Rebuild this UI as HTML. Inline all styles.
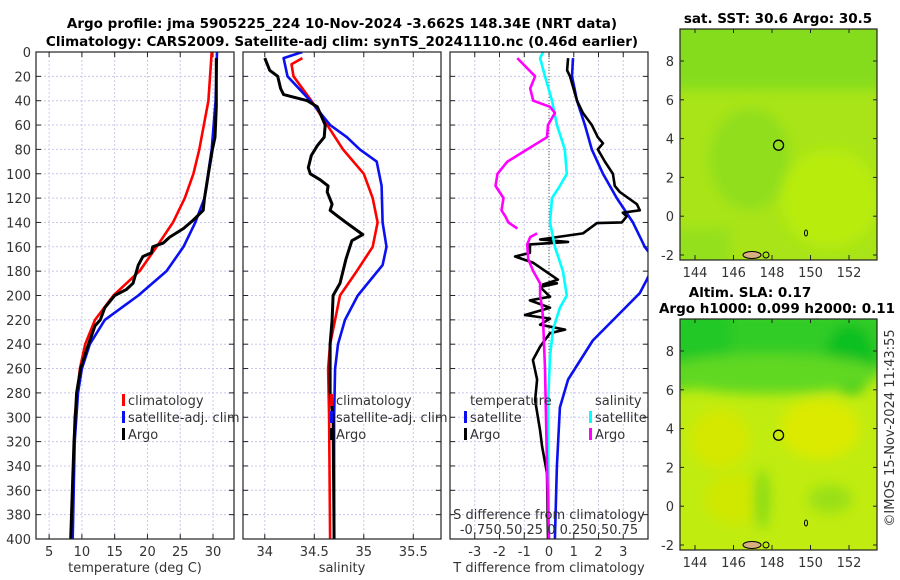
<!DOCTYPE html>
<html><head><meta charset="utf-8"><style>
html,body{margin:0;padding:0;background:#fff;}
svg{display:block;font-family:"DejaVu Sans","Liberation Sans",sans-serif;}
.t{font-size:13px;fill:#333;}
.ttl{font-size:13.5px;font-weight:bold;fill:#000;}
</style></head><body>
<svg id="chart" width="900" height="580" viewBox="0 0 900 580">
<defs>
<filter id="blur4" x="-20%" y="-20%" width="140%" height="140%"><feGaussianBlur stdDeviation="6"/></filter>
<clipPath id="cm1"><rect x="680" y="29" width="197" height="231"/></clipPath>
<clipPath id="cm2"><rect x="680" y="319" width="197" height="231"/></clipPath>
<clipPath id="cp1"><rect x="36" y="52" width="198" height="487"/></clipPath>
<clipPath id="cp2"><rect x="243" y="52" width="198" height="487"/></clipPath>
<clipPath id="cp3"><rect x="450" y="52" width="198" height="487"/></clipPath>
</defs>
<text class="ttl" x="342" y="28" text-anchor="middle">Argo profile: jma 5905225_224 10-Nov-2024 -3.662S 148.34E (NRT data)</text>
<text class="ttl" x="342" y="46" text-anchor="middle">Climatology: CARS2009. Satellite-adj clim: synTS_20241110.nc (0.46d earlier)</text>
<g id="maps"></g>
<g id="plots"></g>
<text class="t" transform="translate(894,428) rotate(-90)" text-anchor="middle" font-size="13">©IMOS 15-Nov-2024 11:43:55</text>
</svg>
<script>
// ---- data (depth in m) ----
const tempClimD = [0,40,80,100,120,140,160,180,200,220,240,260,300,400];
const tempClimV = [29.8,29.3,27.9,27.0,25.7,23.9,21.4,18.8,14.8,12.0,10.5,9.7,8.9,8.5];
const tempSatD = [0,40,80,120,140,160,180,200,220,240,260,280,320,400];
const tempSatV = [30.6,30.4,29.8,28.7,27.3,25.5,22.9,18.6,13.5,11.2,10.0,9.4,8.9,8.6];
const tempArgoD = [5,45,70,80,100,110,120,130,138,145,152,157,160,165,168,175,190,195,200,210,220,225,240,260,280,320,400];
const tempArgoV = [30.5,30.5,30.3,29.9,29.3,29.0,28.7,28.5,27.0,25.5,23.4,22.4,20.8,20.6,19.3,18.6,17.8,16.8,15.0,13.5,12.8,12.0,11.0,9.8,9.2,8.8,8.3];
const salClimD = [5,10,20,40,60,80,100,120,140,160,180,200,220,240,260,300,400];
const salClimV = [34.38,34.27,34.29,34.47,34.63,34.79,35.0,35.09,35.14,35.09,34.93,34.76,34.71,34.66,34.64,34.65,34.66];
const salSatD = [0,5,20,40,60,70,80,90,110,140,160,175,200,220,240,260,300,400];
const salSatV = [34.38,34.19,34.23,34.46,34.66,34.83,34.96,35.13,35.18,35.19,35.23,35.19,34.94,34.81,34.74,34.71,34.70,34.70];
const salArgoD = [5,15,20,30,35,40,45,60,70,77,85,95,100,105,110,115,125,130,135,140,150,155,160,170,180,190,200,220,240,260,280,300,400];
const salArgoV = [34.0,34.05,34.13,34.16,34.19,34.43,34.53,34.61,34.6,34.53,34.47,34.44,34.46,34.56,34.64,34.63,34.68,34.66,34.74,34.82,34.99,34.88,34.86,34.82,34.79,34.76,34.69,34.68,34.66,34.66,34.66,34.69,34.70];
const dTSatD = [5,20,40,60,80,100,120,140,160,172,187,198,237,269,292,340,400];
const dTSatV = [0.97,0.93,1.13,1.45,1.73,2.18,2.74,3.39,3.87,4.3,3.95,3.67,1.77,0.77,0.44,0.32,0.24];
const dTArgoD = [5,15,20,40,50,60,70,75,80,90,100,110,115,125,130,132,135,140,140.5,149,154,156,158,165,168,173,187,191,190,193,201,204,210,216,219,224,228,231,242,253,269,286,311,324,346,400];
const dTArgoV = [0.77,0.73,0.85,1.13,1.37,1.73,1.97,2.18,1.97,2.26,2.58,2.66,2.86,3.55,3.67,2.98,3.14,2.94,1.94,1.37,-0.36,0.77,-0.77,-0.77,-1.37,-0.65,0.36,-0.24,0.32,-0.36,0.04,-0.77,0.04,-0.97,0.04,-0.36,0.65,0.04,-0.36,-0.65,-0.48,-0.56,-0.36,-0.28,-0.08,-0.04];
const dSSatD = [0,5,20,40,60,80,100,110,120,140,160,180,200,210,228,250,290,400];
const dSSatV = [-0.06,-0.09,-0.04,0.03,0.08,0.16,0.18,0.11,0.03,0.01,0.06,0.14,0.18,0.11,0.04,0.01,-0.01,0.0];
const dSArgoD = [5,20,30,40,45,50,60,70,75,80,90,100,110,120,130,135,140,145,null,149,152,158,170,180,190,200,210,220,240,260,300,340,400];
const dSArgoV = [-0.32,-0.14,-0.19,-0.16,0.01,0.06,-0.01,-0.02,-0.12,-0.22,-0.42,-0.52,-0.54,-0.46,-0.48,-0.44,-0.41,-0.32,null,-0.12,-0.19,-0.22,-0.21,-0.16,-0.09,-0.09,-0.07,-0.06,-0.05,-0.04,-0.03,-0.02,0.0];
const depthTicks = [0,20,40,60,80,100,120,140,160,180,200,220,240,260,280,300,320,340,360,380,400];
const tempTicks = [5,10,15,20,25,30];
const salTicks = [34,34.5,35,35.5];
const dTTicks = [-3,-2,-1,0,1,2,3];
const lonTicks = [144,146,148,150,152];
const latTicks = [-2,0,2,4,6,8];

const NS='http://www.w3.org/2000/svg';
const plots=document.getElementById('plots');
const maps=document.getElementById('maps');
function mk(tag,at,parent){const e=document.createElementNS(NS,tag);for(const k in at)e.setAttribute(k,at[k]);(parent||plots).appendChild(e);return e;}
const Y0=52,Y1=539;
const yD=d=>Y0+d/400*(Y1-Y0);
function xLin(x0,x1,v0,v1){return v=>x0+(v-v0)/(v1-v0)*(x1-x0);}
const xT=xLin(36,234,3,33.2);
const xS=xLin(243,441,33.78,35.78);
const xDT=xLin(450,648,-4,4);
const xDS=xLin(450,648,-1,1);

function panel(x0,name,ticks,xf,fmt,xlabel){
  const g=mk('g',{});
  
  
  for(const d of depthTicks){
    const l=mk('line',{x1:x0,x2:x0+198,y1:yD(d),y2:yD(d),stroke:'#c8c8ec','stroke-dasharray':'2,2','stroke-width':1},g);
    
    
    mk('line',{x1:x0,x2:x0+5,y1:yD(d),y2:yD(d),stroke:'#222'},g);
    mk('line',{x1:x0+193,x2:x0+198,y1:yD(d),y2:yD(d),stroke:'#222'},g);
  }
  for(const t of ticks){
    const x=xf(t);
    const l=mk('line',{x1:x,x2:x,y1:Y0,y2:Y1,stroke:'#c8c8ec','stroke-dasharray':'2,2'},g);
    
    
    mk('line',{x1:x,x2:x,y1:Y1-5,y2:Y1,stroke:'#222'},g);
    mk('line',{x1:x,x2:x,y1:Y0,y2:Y0+5,stroke:'#222'},g);
    const tx=mk('text',{x:x,y:Y1+17,'text-anchor':'middle',class:'t'},g);
    tx.textContent=fmt(t);
    
    
  }
  const lb=mk('text',{x:x0+99,y:Y1+33,'text-anchor':'middle',class:'t'},g);
  lb.textContent=xlabel;
  
  
  return g;
}
const p1=panel(36,'temperature-panel',tempTicks,xT,v=>String(v),'temperature (deg C)');
const p2=panel(243,'salinity-panel',salTicks,xS,v=>String(v),'salinity');
const p3=panel(450,'difference-panel',dTTicks,xDT,v=>String(v),'T difference from climatology');
const zl=mk('line',{x1:xDT(0),x2:xDT(0),y1:Y0,y2:Y1,stroke:'#555','stroke-dasharray':'1,2'},p3);


for(const d of depthTicks){
  const t=mk('text',{x:31,y:yD(d)+5,'text-anchor':'end',class:'t'});
  t.textContent=d;
  
  
}
function line(D,V,xf,color,clip,name,w){
  let d='',pen=false;
  for(let i=0;i<D.length;i++){
    if(D[i]===null||V[i]===null){pen=false;continue;}
    d+=(pen?'L':'M')+xf(V[i]).toFixed(1)+','+yD(D[i]).toFixed(1);pen=true;
  }
  const p=mk('path',{d:d,fill:'none',stroke:color,'stroke-width':w||2.6,'stroke-linejoin':'round','clip-path':'url(#'+clip+')'});
  
  
}
line(tempClimD,tempClimV,xT,'#ff0000','cp1','temp-climatology-line');
line(tempSatD,tempSatV,xT,'#0a10f0','cp1','temp-satellite-line');
line(tempArgoD,tempArgoV,xT,'#000','cp1','temp-argo-line',3);
line(salClimD,salClimV,xS,'#ff0000','cp2','sal-climatology-line');
line(salSatD,salSatV,xS,'#0a10f0','cp2','sal-satellite-line');
line(salArgoD,salArgoV,xS,'#000','cp2','sal-argo-line',3);
line(dTSatD,dTSatV,xDT,'#0a10f0','cp3','dT-satellite-line');
line(dTArgoD,dTArgoV,xDT,'#000','cp3','dT-argo-line');
line(dSSatD,dSSatV,xDS,'#00ffff','cp3','dS-satellite-line');
line(dSArgoD,dSArgoV,xDS,'#ff00ff','cp3','dS-argo-line');
for(const x0 of [36,243,450]){
  const r=mk('rect',{x:x0,y:Y0,width:198,height:Y1-Y0,fill:'none',stroke:'#222','stroke-width':1.2});
  
  
}
function legend(x,y,items,name){
  const g=mk('g',{});
  
  
  items.forEach((it,i)=>{
    const yy=y+i*17;
    mk('rect',{x:x,y:yy-11,width:3,height:12,fill:it[1]},g);
    const t=mk('text',{x:x+6,y:yy,class:'t',fill:'#111'},g);
    t.textContent=it[0];
    
    
  });
}
legend(122,405,[['climatology','#ff0000'],['satellite-adj. clim','#0a10f0'],['Argo','#000']],'temp-legend');
legend(330,405,[['climatology','#ff0000'],['satellite-adj. clim','#0a10f0'],['Argo','#000']],'sal-legend');
{const t=mk('text',{x:470,y:405,class:'t'});t.textContent='temperature';}
{const t=mk('text',{x:595,y:405,class:'t'});t.textContent='salinity';}
legend(464,422,[['satellite','#0a10f0'],['Argo','#000']],'dT-legend');
legend(589,422,[['satellite','#00ffff'],['Argo','#ff00ff']],'dS-legend');
{const t=mk('text',{x:549,y:519,'text-anchor':'middle',class:'t'});t.textContent='S difference from climatology';}
{const t=mk('text',{x:549,y:534,'text-anchor':'middle',class:'t'});t.textContent='-0.750.50.25 0 0.250.50.75';}

// ---- maps ----
function mmk(tag,at,parent){return mk(tag,at,parent||maps);}
function mapPanel(top,clip,name,isSla){
  const g=mmk('g',{'clip-path':'url(#'+clip+')'});
  
  
  if(!isSla){
    mmk('rect',{x:680,y:top,width:197,height:231,fill:'#a8e418'},g);
    const b=mmk('g',{filter:'url(#blur4)'},g);
    mmk('rect',{x:670,y:top-10,width:220,height:70,fill:'#84dc1c'},b);
    mmk('ellipse',{cx:750,cy:top+130,rx:40,ry:50,fill:'#90de1e'},b);
    mmk('ellipse',{cx:830,cy:top+170,rx:50,ry:50,fill:'#b8ec10'},b);
    mmk('rect',{x:670,y:top+200,width:60,height:40,fill:'#94e01c'},b);
  } else {
    mmk('rect',{x:680,y:top,width:197,height:231,fill:'#c0ec10'},g);
    const b=mmk('g',{filter:'url(#blur4)'},g);
    mmk('rect',{x:670,y:top-10,width:100,height:80,fill:'#20c828'},b);
    mmk('rect',{x:730,y:top-10,width:160,height:60,fill:'#30cc28'},b);
    mmk('ellipse',{cx:850,cy:top+40,rx:25,ry:35,fill:'#10c020'},b);
    mmk('ellipse',{cx:770,cy:top+55,rx:110,ry:20,fill:'#60d820'},b);
    mmk('ellipse',{cx:820,cy:top+110,rx:40,ry:30,fill:'#dcea00'},b);
    mmk('ellipse',{cx:720,cy:top+120,rx:30,ry:30,fill:'#d4e800'},b);
    mmk('ellipse',{cx:735,cy:top+180,rx:30,ry:25,fill:'#d0e800'},b);
    mmk('ellipse',{cx:762,cy:top+180,rx:8,ry:30,fill:'#88dc18'},b);
    mmk('ellipse',{cx:830,cy:top+180,rx:22,ry:14,fill:'#9ae018'},b);
  }
  mmk('ellipse',{cx:752,cy:top+226,rx:9,ry:3.5,fill:'#d8b080',stroke:'#000','stroke-width':1},g);
  mmk('ellipse',{cx:766,cy:top+226,rx:3,ry:3,fill:'none',stroke:'#000','stroke-width':1},g);
  mmk('ellipse',{cx:806,cy:top+204,rx:1.5,ry:3,fill:'none',stroke:'#000','stroke-width':1},g);
  mmk('rect',{x:680,y:top,width:197,height:231,fill:'none',stroke:'#222','stroke-width':1.2});
  const lonX=xLin(695,849,144,152);
  const yTop=isSla?351:61, per=19.4;
  for(const t of lonTicks){
    const x=lonX(t);
    mmk('line',{x1:x,x2:x,y1:top+231,y2:top+226,stroke:'#222'});
    mmk('line',{x1:x,x2:x,y1:top,y2:top+4,stroke:'#222'});
    const tx=mmk('text',{x:x,y:top+248,'text-anchor':'middle',class:'t'});
    tx.textContent=t;
    
    
  }
  for(const t of latTicks){
    const y=yTop+(8-t)*per;
    mmk('line',{x1:680,x2:684,y1:y,y2:y,stroke:'#222'});
    mmk('line',{x1:873,x2:877,y1:y,y2:y,stroke:'#222'});
    const tx=mmk('text',{x:674,y:y+5,'text-anchor':'end',class:'t'});
    tx.textContent=t;
    
    
  }
  const c=mmk('circle',{cx:lonX(148.34),cy:yTop+(8-3.66)*per,r:5,fill:'none',stroke:'#000','stroke-width':1.3});
  
  
}
mapPanel(29,'cm1','sst-map',false);
mapPanel(319,'cm2','sla-map',true);
{const t=mmk('text',{x:778,y:23,'text-anchor':'middle',class:'ttl'});t.textContent='sat. SST: 30.6 Argo: 30.5';}
{const t=mmk('text',{x:750,y:297,'text-anchor':'middle',class:'ttl'});t.textContent='Altim. SLA: 0.17';}
{const t=mmk('text',{x:777,y:313,'text-anchor':'middle',class:'ttl'});t.textContent='Argo h1000: 0.099 h2000: 0.11';}
</script>
</body></html>
